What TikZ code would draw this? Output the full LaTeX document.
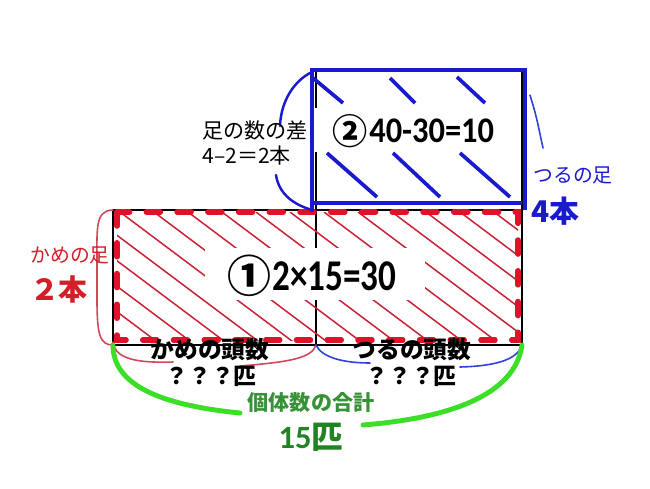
\documentclass[tikz,border=0pt]{standalone}
\usepackage{fontspec}
\setmainfont{Noto Sans CJK JP}
\newfontfamily\calibri{Carlito}
\usepackage{graphicx}
\usepackage{tikz}

\definecolor{dashred}{RGB}{222,18,40}
\definecolor{hatchred}{RGB}{200,35,55}
\definecolor{bracered}{RGB}{210,70,90}
\definecolor{textred}{RGB}{212,30,40}
\definecolor{deepblue}{RGB}{25,25,205}
\definecolor{braceblue}{RGB}{45,65,220}
\definecolor{lightgreen}{RGB}{60,222,40}
\definecolor{textgreen}{RGB}{55,145,55}
\definecolor{darkgreen}{RGB}{35,130,35}

\tikzset{
	blackline/.style={line width=1.1pt,black},
	hatchline/.style={line width=0.85pt,hatchred},
	bluehatch/.style={line width=2.1pt,deepblue},
	bluebox/.style={line width=2.5pt,deepblue},
	thinbrace/.style={line width=0.9pt,line cap=round},
}

\newcommand{\fs}[1]{\fontsize{#1}{#1}\selectfont}

\begin{document}
\begin{tikzpicture}[x=0.02cm,y=-0.02cm]
	\useasboundingbox (0,0) rectangle (650,488);
	
	\coordinate (kt) at (113,210);
	\coordinate (kb) at (113,345);
	\coordinate (mt) at (316,70);
	\coordinate (mb) at (316,345);
	\coordinate (tt) at (522,70);
	\coordinate (tb) at (522,345);
	
	% black outline
	\draw[blackline] (kt) rectangle (tb);
	\draw[blackline] (mt) -- (mb);
	\draw[blackline] (tt) -- (tb);
	
	% hatching, area 1
	\begin{scope}
		\clip (117,212) rectangle (518,340);
		\foreach \s in {-6,...,12}
			\draw[hatchline] ({120+34*\s},212) -- ++(180,135);
	\end{scope}
	\fill[white] (205,248) rectangle (425,300);
	
	\draw[line width=3.1pt,dashred,line cap=round,dash pattern=on 8pt off 9.5pt]
		(117,212) rectangle (518,340);
	
	% area 2
	\fill[white] (314,108) rectangle (519,152);
	\draw[bluehatch] (313,78) -- (343,103);
	\draw[bluehatch] (390,78) -- (415,103);
	\draw[bluehatch] (457,77) -- (485,103);
	\draw[bluehatch] (327,153) -- (377,197);
	\draw[bluehatch] (393,153) -- (440,197);
	\draw[bluehatch] (460,153) -- (510,197);
	\draw[bluebox] (310,70) -- (527,70);
	\draw[bluebox] (312,70) -- (312,212);
	\draw[bluebox] (525,70) -- (525,210);
	\draw[bluebox] (312,203) -- (522,203);
	
	% braces
	\draw[line width=1.4pt,deepblue,line cap=round] (312,72) .. controls (295,80) and (281,100) .. (280,126);
	\draw[line width=1.4pt,deepblue,line cap=round] (276,175) .. controls (279,195) and (295,205) .. (312,210);
	\draw[thinbrace,braceblue] (530,95) .. controls (536,115) .. (543,148);
	\draw[thinbrace,bracered] (kt) .. controls (95,210) and (97,230) .. (97,260) -- (97,300) .. controls (97,335) and (100,345) .. (kb);
	\draw[thinbrace,bracered] (113,342) .. controls (115,360) and (140,363) .. (173,362);
	\draw[thinbrace,bracered] (240,366) .. controls (290,362) and (312,358) .. (mb);
	\draw[thinbrace,braceblue] (mb) .. controls (322,358) and (345,363) .. (370,363);
	\draw[thinbrace,braceblue] (460,367) .. controls (500,366) and (518,358) .. (tb);
	\draw[line width=2.8pt,lightgreen,line cap=round] (kb) .. controls (113,385) and (160,405) .. (240,413);
	\draw[line width=2.8pt,lightgreen,line cap=round] (363,425) .. controls (450,418) and (515,395) .. (tb);
	
	% labels
	\node[anchor=west,inner sep=0pt] (sa) at (202,130) {\fs{12}足の数の差};
	\node[anchor=west,inner sep=0pt] (sa2) at (202,155) {\fs{12}4–2＝2本};
	\node[inner sep=0pt] (f2) at (350,131) {\fs{20}\bfseries ②};
	\node[anchor=west,inner sep=0pt] (e2) at (369,131) {\scalebox{0.9}[1]{\fs{20.5}\calibri\bfseries 40-30=10}};
	\node[inner sep=0pt] (f1) at (249,276) {\fs{25}\bfseries ①};
	\node[anchor=west,inner sep=0pt] (e1) at (272,276) {\scalebox{0.8}[1]{\fs{25}\calibri\bfseries 2×15=30}};
	\node[inner sep=0pt,textred] (kashi) at (70,255) {\fs{11.3}かめの足};
	\node[inner sep=0pt,textred] (kashi2) at (59,289) {\fs{16.5}\bfseries ２本};
	\node[inner sep=0pt,deepblue] (tashi) at (573,175) {\fs{11.3}つるの足};
	\node[anchor=west,inner sep=0pt,deepblue] (tashi2) at (531,211) {\fs{17}\bfseries 4本};
	\node[inner sep=0pt] (katou) at (210,350) {\fs{13.5}\bfseries かめの頭数};
	\node[inner sep=0pt] (kahiki) at (211,376) {\fs{13}\bfseries ？？？匹};
	\node[inner sep=0pt] (tatou) at (412,350) {\fs{13.5}\bfseries つるの頭数};
	\node[inner sep=0pt] (tahiki) at (411,376) {\fs{13}\bfseries ？？？匹};
	\node[inner sep=0pt,textgreen] (gokei) at (311,403) {\fs{12}\bfseries 個体数の合計};
	\node[inner sep=0pt,darkgreen] (gokei2) at (311,437) {\fs{18.5}\calibri\bfseries 15\rmfamily\fs{18}匹};
	
\end{tikzpicture}
\end{document}
